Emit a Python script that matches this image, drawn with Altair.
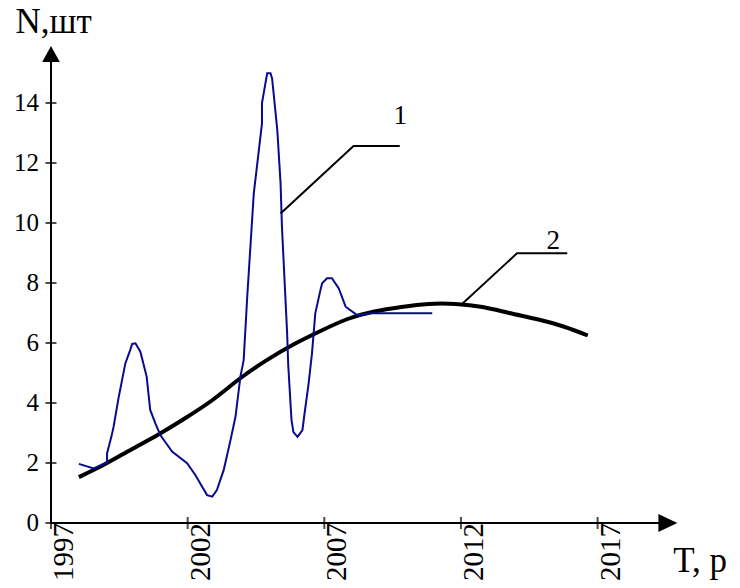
import altair as alt
import pandas as pd

# Series 1 (observed, blue)
years1 = [1998.02, 1998.56, 1999.05, 1999.05, 1999.21, 1999.29, 1999.48, 1999.72, 1999.90, 1999.97,
          2000.09, 2000.27, 2000.50, 2000.63, 2000.82, 2001.00, 2001.43, 2001.98, 2002.28, 2002.71,
          2002.90, 2003.07, 2003.32, 2003.57, 2003.75, 2003.93, 2004.05, 2004.18, 2004.42, 2004.72,
          2004.72, 2004.91, 2005.03, 2005.09, 2005.28, 2005.40, 2005.45, 2005.64, 2005.68, 2005.80,
          2005.87, 2006.02, 2006.20, 2006.27, 2006.42, 2006.55, 2006.67, 2006.86, 2006.92, 2007.10,
          2007.28, 2007.53, 2007.78, 2008.20, 2008.69, 2010.95]
values1 = [1.97, 1.82, 2.01, 2.32, 2.88, 3.21, 4.21, 5.32, 5.77, 5.97,
           5.99, 5.71, 4.88, 3.77, 3.32, 2.93, 2.38, 1.99, 1.60, 0.93,
           0.88, 1.10, 1.77, 2.77, 3.54, 4.88, 5.43, 7.54, 10.99, 13.32,
           14.0, 14.99, 14.99, 14.82, 13.10, 11.32, 9.88, 6.32, 5.27, 3.43,
           3.03, 2.87, 3.10, 3.60, 4.60, 5.66, 6.99, 7.77, 7.99, 8.16,
           8.16, 7.82, 7.21, 6.93, 6.99, 6.99]

# Series 2 (trend, black)
years2 = [1998.02, 1998.95, 1999.94, 2000.93, 2001.92, 2002.91, 2003.89, 2004.88, 2005.87, 2006.86,
          2007.85, 2008.83, 2009.82, 2010.81, 2011.80, 2012.79, 2013.77, 2014.76, 2015.75, 2016.64]
values2 = [1.53, 1.95, 2.45, 2.95, 3.5, 4.1, 4.8, 5.42, 5.95, 6.4,
           6.8, 7.05, 7.2, 7.3, 7.3, 7.2, 7.0, 6.8, 6.55, 6.25]

# Leader lines for labels "1" and "2"
lead1_x = [2005.40, 2008.07, 2009.76]
lead1_y = [10.32, 12.57, 12.57]
lead2_x = [2012.04, 2014.05, 2015.89]
lead2_y = [7.3, 8.99, 8.99]
curve_labels = ["1", "2"]
curve_label_x = [2009.78, 2015.38]
curve_label_y = [13.57, 9.4]

x_ticks = [1997, 2002, 2007, 2012, 2017]
y_ticks = [0, 2, 4, 6, 8, 10, 12, 14]

X_DOMAIN = [1997, 2019.905]
Y_DOMAIN = [0, 16.1]
FONT = "Liberation Serif"


def X(field="x"):
    return alt.X(f"{field}:Q", scale=alt.Scale(domain=X_DOMAIN, nice=False, zero=False), axis=None)


def Y(field="y"):
    return alt.Y(f"{field}:Q", scale=alt.Scale(domain=Y_DOMAIN, nice=False, zero=False), axis=None)


s1 = pd.DataFrame({"x": years1, "y": values1, "i": range(len(years1))})
s2 = pd.DataFrame({"x": years2, "y": values2, "i": range(len(years2))})
leads = pd.DataFrame({
    "x": lead1_x + lead2_x,
    "y": lead1_y + lead2_y,
    "g": ["1"] * 3 + ["2"] * 3,
    "i": list(range(3)) * 2,
})
labels_df = pd.DataFrame({"x": curve_label_x, "y": curve_label_y, "t": curve_labels})
xt = pd.DataFrame({"x": x_ticks, "y": [0] * len(x_ticks), "t": [str(v) for v in x_ticks]})
yt = pd.DataFrame({"x": [1997] * len(y_ticks), "y": y_ticks, "t": [str(v) for v in y_ticks]})

axes_df = pd.DataFrame({"x": [1997, 1997, 2019.3], "y": [15.6, 0, 0], "i": [0, 1, 2]})
axis_line = alt.Chart(axes_df).mark_line(color="black", strokeWidth=2).encode(
    x=X(), y=Y(), order="i:Q")

arrow_up = alt.Chart(pd.DataFrame({"x": [1997], "y": [15.63]})).mark_point(
    shape="M0,-1L1.1,1L-1.1,1Z", size=256, filled=True, color="black", opacity=1
).encode(x=X(), y=Y())
arrow_right = alt.Chart(pd.DataFrame({"x": [2019.57], "y": [0]})).mark_point(
    shape="M1,0L-1,-0.95L-1,0.95Z", size=361, filled=True, color="black", opacity=1
).encode(x=X(), y=Y())

xticks_m = alt.Chart(xt).mark_tick(orient="vertical", size=12, thickness=2, color="black").encode(
    x=X(), y=Y())
yticks_m = alt.Chart(yt).mark_tick(orient="horizontal", size=11, thickness=2, color="black").encode(
    x=X(), y=Y())

xlabels = alt.Chart(xt).mark_text(angle=270, align="right", baseline="middle", dy=13,
                                  font=FONT, fontSize=29, color="black").encode(
    x=X(), y=Y(), text="t:N")
ylabels = alt.Chart(yt).mark_text(align="right", baseline="middle", dx=-12,
                                  font=FONT, fontSize=25, color="black").encode(
    x=X(), y=Y(), text="t:N")

line1 = alt.Chart(s1).mark_line(color="#0a0a8f", strokeWidth=2).encode(
    x=X(), y=Y(), order="i:Q")
line2 = alt.Chart(s2).mark_line(color="black", strokeWidth=4, interpolate="natural").encode(
    x=X(), y=Y(), order="i:Q")

leaders = alt.Chart(leads).mark_line(color="black", strokeWidth=2).encode(
    x=X(), y=Y(), detail="g:N", order="i:Q")
curve_text = alt.Chart(labels_df).mark_text(font=FONT, fontSize=27, color="black",
                                            baseline="middle", align="center").encode(
    x=X(), y=Y(), text="t:N")

ytitle = alt.Chart(pd.DataFrame({"x": [1995.70], "y": [16.33], "t": ["N,шт"]})).mark_text(
    font=FONT, fontSize=35, color="black", align="left", baseline="alphabetic").encode(
    x=X(), y=Y(), text="t:N")
xtitle = alt.Chart(pd.DataFrame({"x": [2019.77], "y": [-1.63], "t": ["T, p"]})).mark_text(
    font=FONT, fontSize=35, color="black", align="left", baseline="alphabetic").encode(
    x=X(), y=Y(), text="t:N")

chart = alt.layer(
    axis_line, arrow_up, arrow_right, xticks_m, yticks_m, xlabels, ylabels,
    line2, line1, leaders, curve_text, ytitle, xtitle
).properties(
    width=626, height=483,
    autosize=alt.AutoSizeParams(type="none"),
    padding={"left": 51, "top": 40, "right": 63, "bottom": 65},
    background="white",
).configure_view(stroke=None)

chart.save("out.html", embed_options={"renderer": "svg", "actions": False})
